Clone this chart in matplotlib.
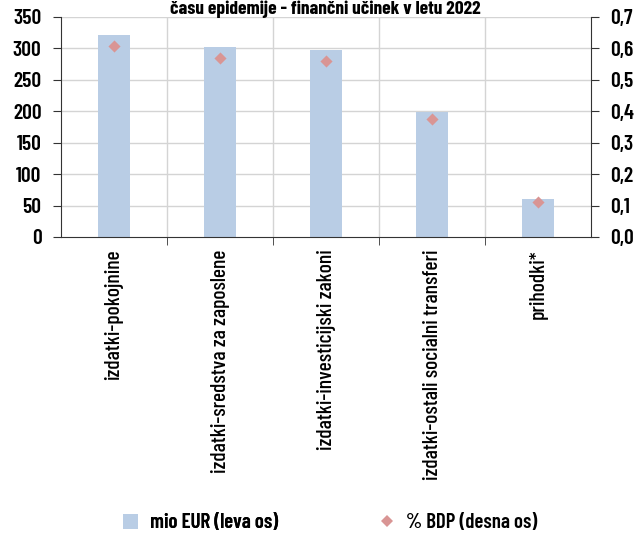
import matplotlib
matplotlib.use("Agg")
import matplotlib.pyplot as plt
from matplotlib.lines import Line2D
from matplotlib.patches import Patch

plt.rcParams["font.family"] = ["Barlow Condensed", "DejaVu Sans"]
plt.rcParams["font.weight"] = "semibold"

categories = [
    "izdatki-pokojnine",
    "izdatki-sredstva za zaposlene",
    "izdatki-investicijski zakoni",
    "izdatki-ostali socialni transferi",
    "prihodki*",
]
mio_eur = [322, 302, 297, 199, 60]
pct_bdp = [0.607, 0.569, 0.560, 0.375, 0.112]
left_ticks = [0, 50, 100, 150, 200, 250, 300, 350]
right_ticks = [0.0, 0.1, 0.2, 0.3, 0.4, 0.5, 0.6, 0.7]
title = "času epidemije - finančni učinek v letu 2022"
legend_labels = ["mio EUR (leva os)", "% BDP (desna os)"]

bar_color = "#b9cde5"
dot_color = "#d99594"
grid_color = "#d4d4d4"
axis_color = "#333333"

W, H = 644, 537
fig = plt.figure(figsize=(W / 100, H / 100), dpi=100)
ax = fig.add_axes([61 / W, 1 - 237 / H, 530 / W, 220 / H])
x = list(range(len(categories)))
ax.bar(x, mio_eur, width=0.31, color=bar_color, zorder=2)
ax.set_xlim(-0.5, len(categories) - 0.5)
ax.set_ylim(0, 350)
ax.set_yticks(left_ticks)
ax.set_yticklabels([str(v) for v in left_ticks], fontsize=15.5)

ax.set_xticks(x)
ax.set_xticklabels(categories, rotation=90, fontsize=15.5, fontweight="medium")
ax.tick_params(axis="x", length=0, pad=9)
bounds = [i + 0.5 for i in x[:-1]]
ax.set_xticks(bounds, minor=True)
ax.tick_params(axis="x", which="minor", length=6, direction="out", color=axis_color)
ax.tick_params(axis="y", length=6, direction="out", color=axis_color, pad=8)

for v in left_ticks[1:]:
    ax.axhline(v, color=grid_color, lw=1, zorder=1)
for b in bounds:
    ax.axvline(b, color=grid_color, lw=1, zorder=1)

for side in ["top", "right"]:
    ax.spines[side].set_visible(False)
ax.spines["left"].set_color(axis_color)
ax.spines["bottom"].set_color(axis_color)

ax2 = ax.twinx()
ax2.scatter(x, pct_bdp, marker="D", s=38, color=dot_color, linewidths=0, zorder=3)
ax2.set_ylim(0, 0.7)
ax2.set_yticks(right_ticks)
ax2.set_yticklabels([f"{v:.1f}".replace(".", ",") for v in right_ticks], fontsize=15.5)
ax2.tick_params(axis="y", length=6, direction="out", color=axis_color, pad=8)
for side in ["top", "left", "bottom"]:
    ax2.spines[side].set_visible(False)
ax2.spines["right"].set_color(axis_color)

fig.text(0.505, 1 - 1 / H, title, ha="center", va="top",
         fontsize=14, fontweight="bold")

h_bar = Patch(facecolor=bar_color, edgecolor="none", label=legend_labels[0])
h_dot = Line2D([], [], marker="D", color=dot_color, ls="none", markersize=6,
               markeredgewidth=0, label=legend_labels[1])
leg1 = fig.legend(handles=[h_bar], loc="center left",
                  bbox_to_anchor=(104 / W, 1 - 523 / H), frameon=False,
                  fontsize=15, handlelength=0.75, handleheight=0.75, handletextpad=0.55)
fig.legend(handles=[h_dot], loc="center left",
           bbox_to_anchor=(358 / W, 1 - 523 / H), frameon=False,
           fontsize=15, handlelength=1.0, handletextpad=0.4)
fig.add_artist(leg1)

fig.savefig("out.png", dpi=100)
